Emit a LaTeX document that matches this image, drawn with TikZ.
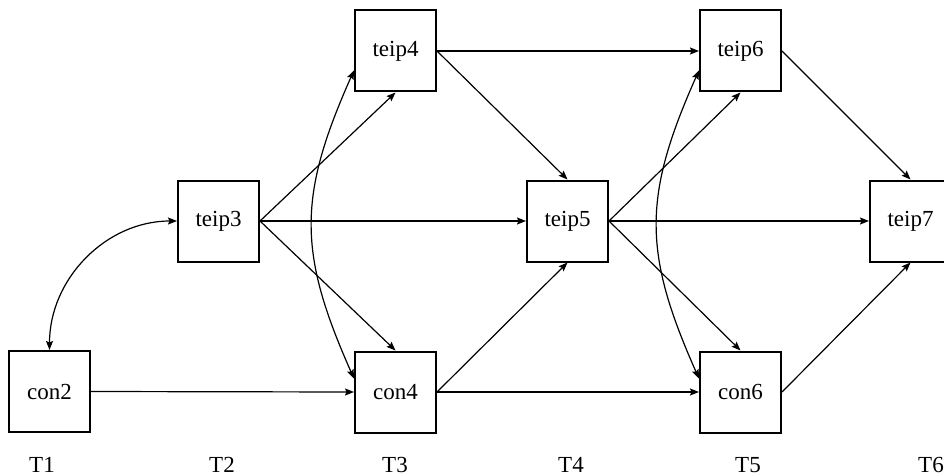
\documentclass[tikz,border=0pt]{standalone}
\usepackage{fontspec}
\setmainfont{Liberation Serif}
\usetikzlibrary{arrows.meta}
\begin{document}
\begin{tikzpicture}[x=1pt,y=1pt,
  box/.style={draw,line width=2pt,minimum size=81pt,inner sep=0pt,font=\fontsize{23}{27}\selectfont},
  tlabel/.style={font=\fontsize{23}{27}\selectfont,inner sep=0pt},
  conn/.style={line width=1.2pt,-{Stealth[length=9pt,width=7pt,inset=1.5pt]}},
  bconn/.style={line width=1.2pt,{Stealth[length=9pt,width=7pt,inset=1.5pt]}-{Stealth[length=9pt,width=7pt,inset=1.5pt]}}]
\useasboundingbox (0,0) rectangle (944,-476);
\node[box] (con2)  at (49.5,-391.5) {con2};
\node[box] (teip3) at (218.5,-221) {teip3};
\node[box] (teip4) at (395.5,-51) {teip4};
\node[box] (con4)  at (395.5,-392) {con4};
\node[box] (teip5) at (567.5,-221) {teip5};
\node[box] (teip6) at (740.5,-51) {teip6};
\node[box] (con6)  at (740.5,-392) {con6};
\node[box] (teip7) at (910.5,-221) {teip7};
\node[tlabel] (t1) at (42,-465) {T1};
\node[tlabel] (t2) at (222,-465) {T2};
\node[tlabel] (t3) at (395,-465) {T3};
\node[tlabel] (t4) at (571,-465) {T4};
\node[tlabel] (t5) at (748,-465) {T5};
\node[tlabel] (t6) at (931,-465) {T6};
% curved two-way
\draw[bconn] (con2.north) to[out=90,in=180] (teip3.west);
\draw[bconn] (teip4.205) to[out=246,in=114,looseness=1.15] (con4.162);
\draw[bconn] (teip6.205) to[out=246,in=114,looseness=1.15] (con6.162);
% straight
\draw[conn] (con2.east) -- (con4.west);
\draw[conn] (teip3.east) -- (teip4.south);
\draw[conn] (teip3.east) -- (teip5.west);
\draw[conn] (teip3.east) -- (con4.north);
\draw[conn] (teip4.east) -- (teip6.west);
\draw[conn] (teip4.east) -- (teip5.north);
\draw[conn] (con4.east) -- (teip5.south);
\draw[conn] (con4.east) -- (con6.west);
\draw[conn] (teip5.east) -- (teip6.south);
\draw[conn] (teip5.east) -- (teip7.west);
\draw[conn] (teip5.east) -- (con6.north);
\draw[conn] (teip6.east) -- (teip7.north);
\draw[conn] (con6.east) -- (teip7.south);
\end{tikzpicture}
\end{document}
